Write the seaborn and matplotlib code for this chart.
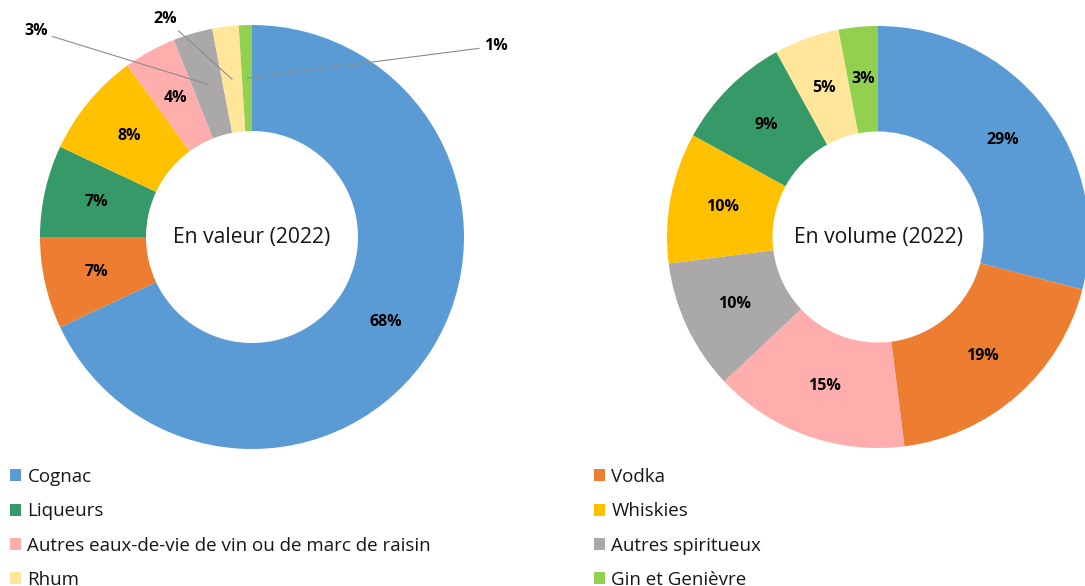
import numpy as np
import pandas as pd
import matplotlib.pyplot as plt
import seaborn as sns
from matplotlib.patches import Patch

sns.set_theme(style="white")
plt.rcParams['font.family'] = ['Open Sans', 'DejaVu Sans']

# categories and colours
categories = ["Cognac", "Vodka", "Liqueurs", "Whiskies",
              "Autres eaux-de-vie de vin ou de marc de raisin",
              "Autres spiritueux", "Rhum", "Gin et Genièvre"]
palette = ["#5B9BD5", "#ED7D31", "#359A68", "#FFC000",
           "#FFADAD", "#AAA8A8", "#FFE699", "#92D050"]
color_of = dict(zip(categories, sns.color_palette(palette)))

# share in value (2022), clockwise from the top
valeur_cat = ["Cognac", "Vodka", "Liqueurs", "Whiskies",
              "Autres eaux-de-vie de vin ou de marc de raisin",
              "Autres spiritueux", "Rhum", "Gin et Genièvre"]
valeur_pct = [68, 7, 7, 8, 4, 3, 2, 1]

# share in volume (2022), clockwise from the top
volume_cat = ["Cognac", "Vodka",
              "Autres eaux-de-vie de vin ou de marc de raisin",
              "Autres spiritueux", "Whiskies", "Liqueurs", "Rhum", "Gin et Genièvre"]
volume_pct = [29, 19, 15, 10, 10, 9, 5, 3]

df_val = pd.DataFrame({'category': valeur_cat, 'pct': valeur_pct})
df_vol = pd.DataFrame({'category': volume_cat, 'pct': volume_pct})

# small slices labelled outside: text position (axes data units)
outside_val = {"Autres spiritueux": (-1.02, 0.97),
               "Rhum": (-0.41, 1.03),
               "Gin et Genièvre": (1.15, 0.90)}

W, H = 1085, 586
fig = plt.figure(figsize=(W / 100, H / 100), dpi=100)


def px_axes(cx, cy, r):
    return fig.add_axes([(cx - r) / W, (H - cy - r) / H, 2 * r / W, 2 * r / H])


def donut(ax, df, title, outside=None):
    outside = outside or {}
    wedges, _ = ax.pie(df['pct'], colors=[color_of[c] for c in df['category']],
                       startangle=90, counterclock=False, radius=1,
                       wedgeprops=dict(width=0.5, linewidth=0))
    for w, cat, p in zip(wedges, df['category'], df['pct']):
        mid = np.deg2rad((w.theta1 + w.theta2) / 2)
        x, y = 0.75 * np.cos(mid), 0.75 * np.sin(mid)
        if cat in outside:
            ax.annotate(f"{p}%", xy=(x, y), xytext=outside[cat],
                        ha='center', va='center', fontsize=11.5, fontweight='bold',
                        color='black', annotation_clip=False,
                        arrowprops=dict(arrowstyle='-', color='#8c8c8c', lw=0.8,
                                        shrinkA=1, shrinkB=0))
        else:
            ax.text(x, y, f"{p}%", ha='center', va='center', fontsize=11.5,
                    fontweight='bold', color='black')
    ax.text(0, 0, title, ha='center', va='center', fontsize=15.2, color='#161616')
    ax.set_xlim(-1, 1)
    ax.set_ylim(-1, 1)
    ax.set_aspect('equal')
    ax.axis('off')


ax1 = px_axes(252, 237, 212)
donut(ax1, df_val, "En valeur (2022)", outside_val)
ax2 = px_axes(878, 237, 211)
donut(ax2, df_vol, "En volume (2022)")

col1 = ["Cognac", "Liqueurs", "Autres eaux-de-vie de vin ou de marc de raisin", "Rhum"]
col2 = ["Vodka", "Whiskies", "Autres spiritueux", "Gin et Genièvre"]
for names, x0 in [(col1, 10), (col2, 594)]:
    handles = [Patch(facecolor=color_of[n], edgecolor='none', label=n) for n in names]
    fig.legend(handles=handles, loc='upper left', bbox_to_anchor=(x0 / W, 1 - 468 / H),
               frameon=False, fontsize=13.5, handlelength=0.6, handleheight=0.6,
               handletextpad=0.33, labelspacing=0.87, borderpad=0, borderaxespad=0,
               labelcolor='#161616')

fig.savefig("out.png", dpi=100)
